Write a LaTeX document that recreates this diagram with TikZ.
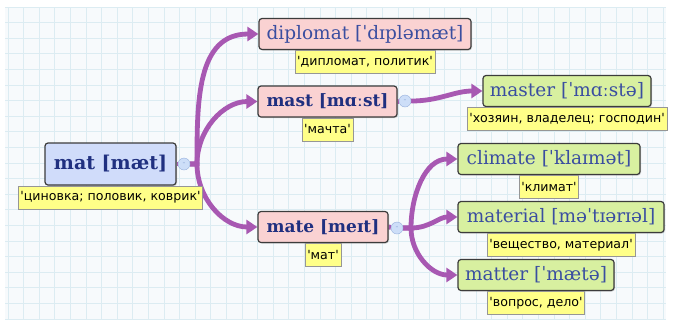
\documentclass[tikz,border=0pt]{standalone}
\usepackage{fontspec}
\setmainfont{DejaVu Serif}
\newfontfamily\notefont{DejaVu Sans}[Ligatures=TeXOff]
\usepackage{xcolor}
\usetikzlibrary{arrows.meta,positioning,shadows,backgrounds}

\definecolor{paper}{RGB}{247,250,252}
\definecolor{gridblue}{RGB}{220,236,242}
\definecolor{rootfill}{RGB}{208,220,250}
\definecolor{midfill}{RGB}{250,210,210}
\definecolor{leaffill}{RGB}{216,240,160}
\definecolor{notefill}{RGB}{255,255,136}
\definecolor{notegray}{RGB}{150,150,150}
\definecolor{boxline}{RGB}{60,60,60}
\definecolor{wordblue}{RGB}{58,78,160}
\definecolor{headblue}{RGB}{32,48,128}
\definecolor{branchpurple}{RGB}{168,88,178}
\definecolor{foldfill}{RGB}{205,222,248}
\definecolor{foldline}{RGB}{150,175,220}

\begin{document}
\begin{tikzpicture}[x=1pt, y=-1pt,
    wordbox/.style={draw=boxline, line width=1.2pt, rounded corners=3pt,
        inner sep=2pt, minimum height=31pt, text=wordblue,
        font=\fontsize{18.5}{20}\selectfont,
        drop shadow={shadow xshift=1pt, shadow yshift=-1pt, opacity=0.35}},
    rootword/.style={wordbox, fill=rootfill, minimum height=42pt,
        font=\fontsize{19}{21}\selectfont\bfseries, text=headblue},
    midword/.style={wordbox, fill=midfill,
        font=\fontsize{17}{19}\selectfont\bfseries, text=headblue},
    pinkword/.style={wordbox, fill=midfill},
    leafword/.style={wordbox, fill=leaffill},
    note/.style={draw=notegray, fill=notefill, inner xsep=2pt, inner ysep=0pt,
        minimum height=23pt, font=\notefont\fontsize{12.6}{14}\selectfont},
    fold/.style={circle, draw=foldline, fill=foldfill, inner sep=0pt,
        minimum size=12pt, font=\notefont\fontsize{8}{8}\selectfont, text=foldline},
    stem/.style={draw=branchpurple, line width=4.8pt},
    branch/.style={stem, -{Triangle[length=11pt,width=14pt]}},
    gridline/.style={draw=gridblue, line width=0.8pt}
]
    \useasboundingbox (0,0) rectangle (676,325);

    % words
    \node[rootword, minimum width=131pt] (mat) at (110.5,164) {mat [mæt]};
    \node[note, below=0pt of mat] (matnote) {'циновка; половик, коврик'};
    \node[fold] (matfold) at (184,164) {-};

    \node[pinkword, minimum width=212pt] (diplomat) at (365,34) {diplomat [ˈdɪpləmæt]};
    \node[note, below=0pt of diplomat] (diplomatnote) {'дипломат, политик'};

    \node[midword, minimum width=139pt] (mast) at (327.5,101.5) {mast [mɑːst]};
    \node[note, below=0pt of mast] (mastnote) {'мачта'};
    \node[fold] (mastfold) at (405,101) {-};

    \node[midword, minimum width=130pt] (mate) at (323,227) {mate [meɪt]};
    \node[note, below=0pt of mate] (matenote) {'мат'};
    \node[fold] (matefold) at (397,228) {-};

    \node[leafword, minimum width=168pt] (master) at (567,91) {master [ˈmɑːstə]};
    \node[note, below=0pt of master] (masternote) {'хозяин, владелец; господин'};

    \node[leafword, minimum width=182pt] (climate) at (549,159) {climate [ˈklaɪmət]};
    \node[note, below=0pt of climate] (climatenote) {'климат'};

    \node[leafword, minimum width=206pt] (material) at (561,217) {material [məˈtɪərɪəl]};
    \node[note, below=0pt of material] (materialnote) {'вещество, материал'};

    \node[leafword, minimum width=156pt] (matter) at (536,275) {matter [ˈmætə]};
    \node[note, below=0pt of matter] (matternote) {'вопрос, дело'};

    \coordinate (matfork) at (197,164);
    \coordinate (matefork) at (411,228);

    \begin{scope}[on background layer]
        \fill[paper] (5,7) rectangle (666,320);
        \foreach \gx in {8,23.6,...,666} {
            \draw[gridline] (\gx,7) -- (\gx,320);
        }
        \foreach \gy in {7,22.6,...,320} {
            \draw[gridline] (5,\gy) -- (666,\gy);
        }

        \draw[stem] (mat.east) -- (matfold);
        \draw[branch] (matfold) -- (matfork) to[out=90, in=180, looseness=1.1] (diplomat.west);
        \draw[branch] (matfold) -- (matfork) to[out=90, in=180] (mast.west);
        \draw[branch] (matfold) -- (matfork) to[out=-90, in=180] (mate.west);

        \draw[stem] (mast.east) -- (mastfold);
        \draw[branch] (mastfold) to[out=0, in=180] (master.west);

        \draw[stem] (mate.east) -- (matefold);
        \draw[branch] (matefold) -- (matefork) to[out=90, in=180] (climate.west);
        \draw[branch] (matefold) -- (matefork) to[out=0, in=180] (material.west);
        \draw[branch] (matefold) -- (matefork) to[out=-90, in=180] (matter.west);
    \end{scope}
\end{tikzpicture}
\end{document}
